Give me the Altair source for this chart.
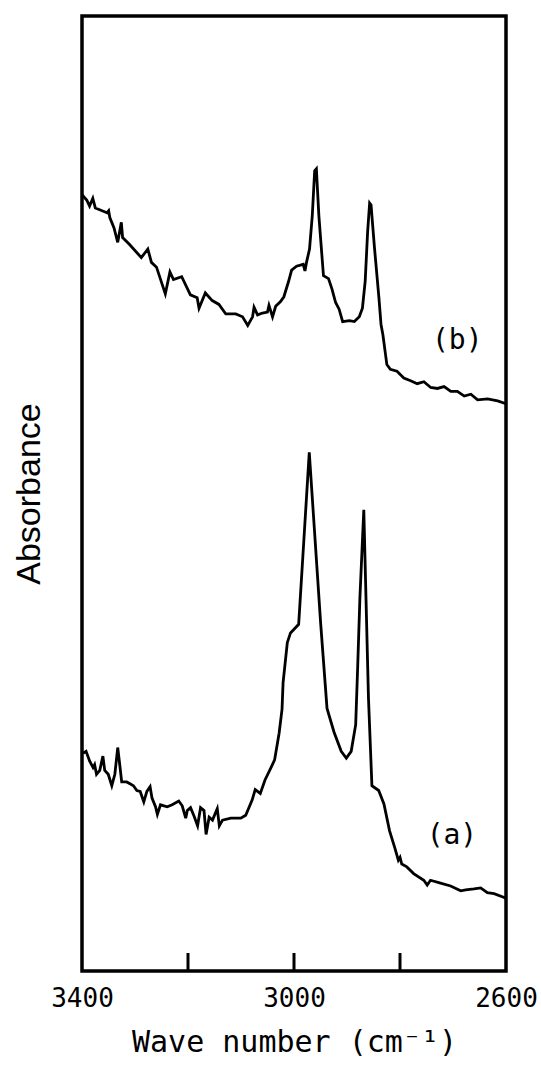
import altair as alt
import pandas as pd

# ---- spectrum (a) : wave number (cm-1) and absorbance (arbitrary units) ----
wn_a = [3398, 3392.3, 3385.7, 3379.1, 3376.2, 3372.6, 3366.5, 3360.6, 3357.1, 3350.5,
        3343.8, 3338.0, 3332.6, 3329.0, 3325.1, 3315.7, 3309.4, 3302.9, 3296.5, 3290.2,
        3283.4, 3277.6, 3271.5, 3267.9, 3261.3, 3257.8, 3251.9, 3239.2, 3229.9, 3217.4,
        3210.9, 3204.3, 3201.3, 3195.2, 3188.5, 3181.9, 3176.3, 3169.8, 3165.9, 3160.1,
        3153.8, 3144.8, 3140.9, 3134.9, 3119.3, 3100.4, 3091.1, 3079.0, 3073.2, 3063.6,
        3054.7, 3042.5, 3036.6, 3028.1, 3022.6, 3020.6, 3012.6, 3006.6, 2991.2, 2971.2,
        2949.7, 2937.7, 2924.4, 2910.9, 2901.3, 2892.1, 2883.6, 2879.7, 2875.7, 2868.3,
        2859.5, 2853.0, 2840.2, 2830.3, 2819.8, 2809.8, 2803.1, 2799.9, 2796.7, 2787.1,
        2774.3, 2755.1, 2748.7, 2742.5, 2723.5, 2704.5, 2685.4, 2676.1, 2660.4, 2647.8,
        2635.2, 2622.5, 2603.5, 2600]
abs_a = [22.8, 23.0, 22.0, 21.3, 21.6, 20.6, 21.0, 22.5, 21.0, 20.6,
         19.4, 20.6, 23.4, 21.7, 19.8, 19.8, 19.6, 19.4, 18.9, 18.8,
         17.7, 18.8, 19.3, 18.1, 17.2, 16.4, 17.4, 17.2, 17.4, 17.8,
         17.3, 16.0, 16.8, 17.1, 16.2, 15.2, 17.1, 16.8, 14.3, 16.1,
         15.8, 17.0, 15.2, 15.8, 16.0, 16.0, 16.3, 17.9, 19.0, 18.6,
         20.0, 21.4, 22.1, 24.9, 27.4, 30.2, 34.4, 35.4, 36.3, 54.3,
         36.4, 27.5, 25.0, 23.0, 22.3, 23.0, 25.8, 32.1, 39.0, 48.3,
         28.6, 19.4, 18.9, 17.5, 14.7, 12.9, 11.6, 11.9, 11.2, 10.9,
         10.2, 9.5, 9.0, 9.5, 9.2, 8.9, 8.4, 8.5, 8.6, 8.7,
         8.2, 8.1, 7.7, 7.6]

# ---- spectrum (b) ----
wn_b = [3400, 3390.8, 3385.7, 3379.6, 3374.9, 3362.1, 3352.6, 3349.7, 3347.5, 3339.6,
        3332.6, 3325.8, 3323.4, 3310.7, 3288.1, 3275.8, 3269.0, 3259.4, 3242.8, 3234.1,
        3227.4, 3211.9, 3195.5, 3182.7, 3179.2, 3167.3, 3154.3, 3141.6, 3128.7, 3109.9,
        3097.1, 3087.3, 3078.2, 3075.4, 3068.8, 3059.5, 3050.1, 3047.2, 3040.5, 3034.6,
        3025.4, 3019.1, 3010.3, 3004.5, 2995.2, 2982.6, 2979.3, 2976.4, 2970.7, 2965.5,
        2961.0, 2957.8, 2953.1, 2944.4, 2934.9, 2928.3, 2921.5, 2914.9, 2908.2, 2895.6,
        2886.1, 2876.8, 2870.9, 2865.7, 2861.1, 2857.3, 2854.6, 2848.1, 2839.8, 2835.8,
        2832.2, 2824.8, 2818.2, 2805.7, 2792.8, 2780.0, 2767.5, 2754.9, 2742.1, 2729.5,
        2716.9, 2704.1, 2691.7, 2678.8, 2666.3, 2653.6, 2634.8, 2615.8, 2600]
abs_b = [81.3, 80.7, 80.1, 80.9, 79.9, 79.6, 79.4, 79.6, 78.9, 77.8,
         76.3, 78.4, 76.8, 76.1, 74.7, 75.6, 74.2, 73.7, 70.9, 73.2,
         72.4, 72.7, 70.8, 70.5, 69.4, 71.0, 70.2, 69.8, 68.8, 68.8,
         68.5, 67.6, 68.5, 69.5, 68.7, 68.9, 69.0, 69.7, 68.5, 69.6,
         70.1, 70.6, 72.2, 73.4, 73.8, 74.0, 73.3, 74.2, 75.6, 79.1,
         83.8, 84.0, 79.1, 72.8, 72.5, 71.4, 70.0, 69.3, 68.0, 68.1,
         68.0, 68.5, 69.4, 72.2, 77.4, 80.4, 80.2, 75.7, 70.5, 67.7,
         66.6, 63.5, 63.0, 62.8, 62.1, 61.8, 61.5, 61.7, 61.1, 61.0,
         61.2, 60.7, 60.7, 60.2, 60.4, 59.8, 59.9, 59.7, 59.4]

# ---- axis ticks / labels and curve labels ----
tick_values = [3200, 3000, 2800]
label_values = [3400, 3000, 2600]
curve_labels = ["(a)", "(b)"]
curve_label_wn = [2702, 2692]
curve_label_abs = [14.1, 66.0]

df_a = pd.DataFrame({"wn": wn_a, "A": abs_a, "i": list(range(len(wn_a)))})
df_b = pd.DataFrame({"wn": wn_b, "A": abs_b, "i": list(range(len(wn_b)))})
df_ticks = pd.DataFrame({"wn": tick_values})
df_lab = pd.DataFrame({"wn": curve_label_wn, "A": curve_label_abs, "text": curve_labels})

xs = alt.Scale(domain=[3400, 2600], nice=False, zero=False)
ys = alt.Scale(domain=[0, 100], nice=False, zero=False)

mono = "DejaVu Sans Mono"

x_axis = alt.Axis(values=label_values, format="d", title="Wave number (cm⁻¹)",
                  domain=False, ticks=False, grid=False, labelFlush=False,
                  labelFont=mono, labelFontSize=26, labelColor="black", labelPadding=14,
                  titleFont=mono, titleFontSize=30, titleFontWeight="normal",
                  titleColor="black", titlePadding=16)
y_axis = alt.Axis(title="Absorbance", labels=False, ticks=False, domain=False, grid=False,
                  titleFont="Liberation Sans", titleFontSize=34, titleFontWeight="normal",
                  titleColor="black", titlePadding=36)

X = alt.X("wn:Q", scale=xs, axis=x_axis, title="Wave number (cm⁻¹)")
Y = alt.Y("A:Q", scale=ys, axis=y_axis, title="Absorbance")

line_a = alt.Chart(df_a).mark_line(color="black", strokeWidth=2.8).encode(
    x=X, y=Y, order="i:Q",
)
line_b = alt.Chart(df_b).mark_line(color="black", strokeWidth=2.8).encode(
    x=X, y=Y, order="i:Q",
)
ticks = alt.Chart(df_ticks).mark_rule(color="black", strokeWidth=3).encode(
    x=X,
    y=alt.value(955),
    y2=alt.value(937),
)
labels = alt.Chart(df_lab).mark_text(font=mono, fontSize=28, color="black").encode(
    x=X, y=Y, text="text:N",
)

chart = alt.layer(line_a, line_b, ticks, labels).properties(
    width=424, height=955,
    padding={"left": 82, "top": 16, "right": 35, "bottom": 104},
    autosize=alt.AutoSizeParams(type="none"),
    background="white",
).configure_view(stroke="black", strokeWidth=3.5)

chart.save("out.html", embed_options={"renderer": "svg", "actions": False})
